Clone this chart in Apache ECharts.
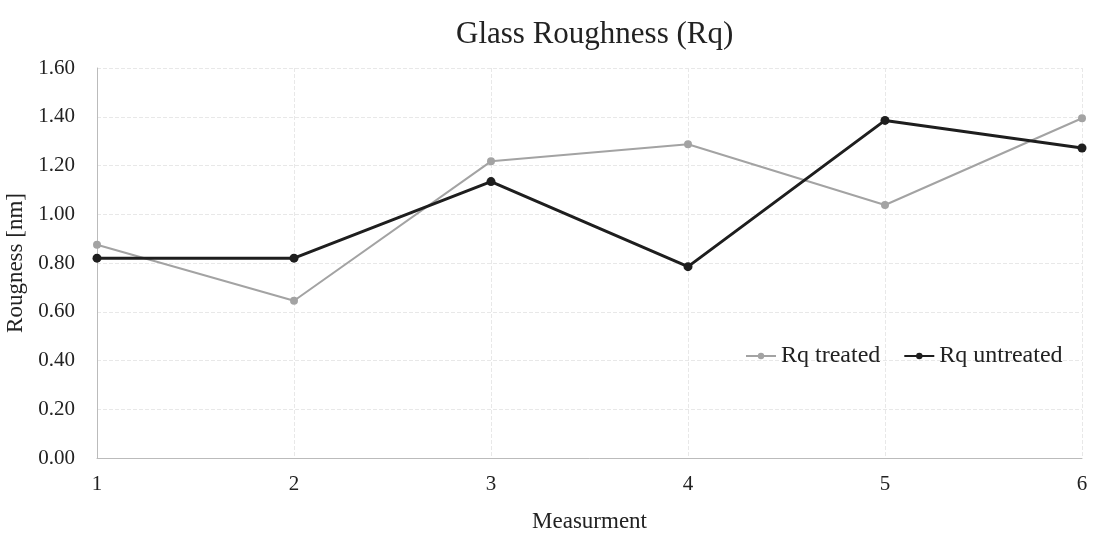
<!DOCTYPE html>
<html><head><meta charset="utf-8">
<script src="https://cdn.jsdelivr.net/npm/echarts@6/dist/echarts.min.js"></script>
<style>html,body{margin:0;padding:0;background:#fff}#c{width:1094px;height:533px}</style>
</head><body><div id="c"></div>
<script>
const categories = ['1','2','3','4','5','6'];
const treated = [0.875, 0.645, 1.217, 1.287, 1.038, 1.394];
const untreated = [0.820, 0.820, 1.134, 0.785, 1.385, 1.272];
const yTicks = {min: 0, max: 1.6, interval: 0.2};
const font = 'Liberation Serif';
const chart = echarts.init(document.getElementById('c'));
chart.setOption({
  backgroundColor: '#fff',
  animation: false,
  title: {text: 'Glass Roughness (Rq)', left: 451, top: 14,
    textStyle: {fontFamily: font, fontSize: 31, fontWeight: 'normal', color: '#222'}},
  grid: {left: 97, right: 12, top: 68, bottom: 75, containLabel: false, outerBoundsMode: 'none'},
  legend: {left: 740, top: 339, itemGap: 23, itemWidth: 30, itemHeight: 8,
    textStyle: {fontFamily: font, fontSize: 24, color: '#222'},
    data: ['Rq treated', 'Rq untreated']},
  xAxis: {type: 'category', data: categories, boundaryGap: false,
    name: 'Measurment', nameLocation: 'middle', nameGap: 52,
    nameTextStyle: {fontFamily: font, fontSize: 23, color: '#222'},
    axisLine: {lineStyle: {color: '#bbb', width: 1}},
    axisTick: {show: false},
    axisLabel: {fontFamily: font, fontSize: 21, color: '#222', margin: 16},
    splitLine: {show: true, lineStyle: {color: '#e8e8e8', type: 'dashed', width: 1}}},
  yAxis: {type: 'value', min: yTicks.min, max: yTicks.max, interval: yTicks.interval,
    name: 'Rougness [nm]', nameLocation: 'middle', nameGap: 64,
    nameTextStyle: {fontFamily: font, fontSize: 23, color: '#222'},
    axisLine: {show: true, lineStyle: {color: '#bbb', width: 1}},
    axisTick: {show: false},
    axisLabel: {fontFamily: font, fontSize: 21, color: '#222', margin: 22,
      formatter: v => v.toFixed(2)},
    splitLine: {show: true, lineStyle: {color: '#e8e8e8', type: 'dashed', width: 1}}},
  series: [
    {name: 'Rq treated', type: 'line', data: treated, symbol: 'circle', symbolSize: 8,
      itemStyle: {color: '#a3a3a3'}, lineStyle: {color: '#a3a3a3', width: 2}},
    {name: 'Rq untreated', type: 'line', data: untreated, symbol: 'circle', symbolSize: 9,
      itemStyle: {color: '#1e1e1e'}, lineStyle: {color: '#1e1e1e', width: 3}}
  ]
});
</script></body></html>
